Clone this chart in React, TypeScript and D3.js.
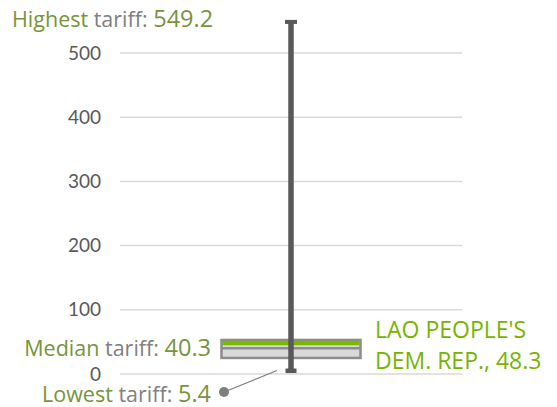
import React from "react";
import * as d3 from "d3";

const categories = ["LAO PEOPLE'S DEM. REP."];
const lowestValues = [5.4];
const q1Values = [25];
const medianValues = [40.3];
const q3Values = [53];
const highestValues = [549.2];
const countryValues = [48.3];
const countryLines = [["LAO PEOPLE'S", "DEM. REP., 48.3"]];
const tickValues = [0, 100, 200, 300, 400, 500];

const W = 557;
const H = 407;
const FONT = "Lato, 'Open Sans', sans-serif";
const LFONT = "'Open Sans', Lato, sans-serif";
const OLIVE = "#77933C";
const GRAY_TXT = "#808080";
const BRIGHT = "#76B400";

export default function App() {
  const y = d3.scaleLinear().domain([0, 500]).range([374, 53]);
  const x = d3.scaleBand<string>().domain(categories).range([120, 462]).paddingInner(0).paddingOuter(0.73);
  const cat = categories[0];
  const bx = x(cat)!;
  const bw = x.bandwidth();
  const cx = bx + bw / 2;
  const lo = lowestValues[0];
  const hi = highestValues[0];
  const q1 = q1Values[0];
  const q3 = q3Values[0];
  const med = medianValues[0];
  const cv = countryValues[0];
  const fmt = d3.format(".1f");

  return (
    <svg width={W} height={H} style={{ position: "absolute", left: 0, top: 0 }} fontFamily={FONT}>
      {tickValues.map((t) => (
        <g key={t}>
          <line x1={120} x2={462} y1={y(t)} y2={y(t)} stroke="#d9d9d9" strokeWidth={1.5} />
          <text x={101} y={y(t) + 6.5} textAnchor="end" fontSize={19} fill="#595959">
            {t}
          </text>
        </g>
      ))}
      {/* box */}
      <rect x={bx} y={y(q3)} width={bw} height={y(q1) - y(q3)} fill="#d9d9d9" stroke="#8c8c8c" strokeWidth={2.5} />
      <line x1={bx} x2={bx + bw} y1={y(med)} y2={y(med)} stroke="#8c8c8c" strokeWidth={2.5} />
      <line x1={bx + 1} x2={bx + bw - 1} y1={y(cv)} y2={y(cv)} stroke="#7AB800" strokeWidth={4.5} />
      {/* whisker */}
      <line x1={cx} x2={cx} y1={y(hi)} y2={y(lo)} stroke="#595959" strokeWidth={5.5} />
      <rect x={cx - 6} y={y(hi) - 1.5} width={12} height={4} fill="#595959" />
      <rect x={cx - 5.5} y={y(lo) - 2} width={11} height={4.5} fill="#595959" />
      {/* leader for lowest */}
      <line x1={224} y1={392} x2={cx - 14} y2={y(lo)} stroke="#7f7f7f" strokeWidth={1.2} />
      <circle cx={224} cy={392} r={5} fill="#7f7f7f" />
      {/* labels */}
      <text x={12} y={27} fontSize={21.5} fontFamily={LFONT}>
        <tspan fill={OLIVE}>Highest</tspan>
        <tspan fill={GRAY_TXT}> tariff: </tspan>
        <tspan fill={OLIVE} fontSize={23.5}>{fmt(hi)}</tspan>
      </text>
      <text x={211} y={356} fontSize={21.5} textAnchor="end" fontFamily={LFONT}>
        <tspan fill={OLIVE}>Median</tspan>
        <tspan fill={GRAY_TXT}> tariff: </tspan>
        <tspan fill={OLIVE} fontSize={23.5}>{fmt(med)}</tspan>
      </text>
      <text x={211} y={402} fontSize={21.5} textAnchor="end" fontFamily={LFONT}>
        <tspan fill={OLIVE}>Lowest</tspan>
        <tspan fill={GRAY_TXT}> tariff: </tspan>
        <tspan fill={OLIVE} fontSize={23.5}>{fmt(lo)}</tspan>
      </text>
      <text x={375} y={338} fontSize={23} fill={BRIGHT} fontFamily={LFONT}>
        {countryLines[0].map((l, i) => (
          <tspan key={i} x={375} y={338 + i * 31}>
            {l}
          </tspan>
        ))}
      </text>
    </svg>
  );
}
